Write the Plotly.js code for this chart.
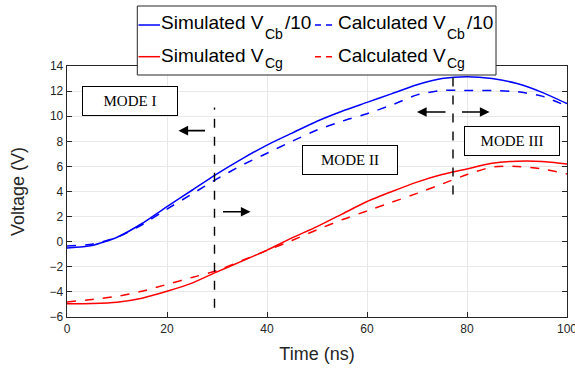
<!DOCTYPE html>
<html><head><meta charset="utf-8">
<script src="https://cdn.plot.ly/plotly-3.0.1.min.js"></script>
<style>html,body{margin:0;padding:0;background:#fff}#chart{width:575px;height:369px}</style>
</head><body><div id="chart"></div>
<script>
const time = [0,5,10,15,20,25,30,35,40,45,50,55,60,65,70,75,80,85,90,95,100];
const simVcb10 = [-0.5,-0.3,0.35,1.45,2.8,4.1,5.4,6.6,7.7,8.65,9.6,10.4,11.1,11.8,12.5,13.0,13.15,13.0,12.6,11.9,11.0];
const calcVcb10 = [-0.35,-0.2,0.35,1.35,2.6,3.8,5.0,6.1,7.05,8.0,8.9,9.6,10.2,10.9,11.7,12.05,12.05,12.05,11.95,11.6,10.8];
const simVcg = [-4.95,-4.92,-4.82,-4.5,-3.95,-3.3,-2.4,-1.55,-0.67,0.3,1.2,2.2,3.2,4.0,4.75,5.35,5.8,6.25,6.42,6.4,6.2];
const calcVcg = [-4.8,-4.6,-4.35,-3.95,-3.4,-2.85,-2.3,-1.5,-0.7,0.1,0.95,1.75,2.45,3.15,3.85,4.6,5.35,5.95,6.0,5.8,5.4];
const seriesMain = ['Simulated V','Calculated V','Simulated V','Calculated V'];
const seriesSub = ['Cb','Cb','Cg','Cg'];
const seriesSuffix = ['/10','/10','',''];
const modeBoundaries = [29.5, 77.2];
const modeLabels = ['MODE I','MODE II','MODE III'];
const xTicks = [0,20,40,60,80,100];
const yTicks = [-6,-4,-2,0,2,4,6,8,10,12,14];

const W = 575, H = 369, M = {l: 67, r: 8, t: 66, b: 52};
const PW = W - M.l - M.r, PH = H - M.t - M.b;
const px2x = px => (px - M.l) / PW;           // pixel -> paper x
const py2y = py => (H - M.b - py) / PH;       // pixel -> paper y

const colors = ['#0000ff','#0000ff','#ff0000','#ff0000'];
const dashes = ['solid','dash','solid','dash'];
const series = [simVcb10, calcVcb10, simVcg, calcVcg];
const traces = series.map((y, i) => ({x: time, y: y, type: 'scatter', mode: 'lines', showlegend: false,
  name: seriesMain[i] + seriesSub[i] + seriesSuffix[i],
  line: {color: colors[i], width: 1.5, dash: dashes[i], shape: 'spline', smoothing: 0.6}}));

const axisCommon = {showline: true, linecolor: '#262626', linewidth: 1.3, mirror: 'ticks',
  ticks: 'inside', ticklen: 5, tickcolor: '#262626', showgrid: true, gridcolor: '#e8e8e8',
  zeroline: false, ticklabeloverflow: 'allow',
  tickfont: {family: 'Liberation Sans, Arial', size: 12, color: '#262626'}};

const boxStyle = {showarrow: false, bordercolor: '#000', borderwidth: 1, bgcolor: '#fff',
  font: {family: 'Liberation Serif, Times New Roman', size: 15, color: '#000'}, width: 94, height: 28, borderpad: 0};
const arrowStyle = {showarrow: true, arrowhead: 2, arrowsize: 1.2, arrowwidth: 1.6, arrowcolor: '#000',
  axref: 'x', ayref: 'y', text: ''};

// custom legend (MATLAB style, two columns)
const legFont = {family: 'Liberation Sans, Arial', size: 19, color: '#000'};
const subFont = {family: 'Liberation Sans, Arial', size: 14, color: '#000'};
const colX = [{line: [138.5, 160], main: 160, sub: 263.5, suf: 284}, {line: [315, 332], main: 336.5, sub: 445.5, suf: 466}];
const rowY = [{line: 25, main: 22.3, sub: 33.6}, {line: 56.7, main: 55.5, sub: 63.3}];
const legendShapes = [{type: 'rect', xref: 'paper', yref: 'paper', layer: 'above',
  x0: px2x(137.3), x1: px2x(496), y0: py2y(75), y1: py2y(6),
  fillcolor: '#fff', line: {color: '#262626', width: 1}}];
const legendAnns = [];
series.forEach((s, i) => {
  const c = colX[i % 2], r = rowY[Math.floor(i / 2)];
  legendShapes.push({type: 'line', xref: 'paper', yref: 'paper', layer: 'above',
    x0: px2x(c.line[0]), x1: px2x(c.line[1]), y0: py2y(r.line), y1: py2y(r.line),
    line: {color: colors[i], width: 1.5, dash: dashes[i] === 'dash' ? '6px,5px' : 'solid'}});
  legendAnns.push({xref: 'paper', yref: 'paper', x: px2x(c.main), y: py2y(r.main), xanchor: 'left', yanchor: 'middle',
    text: seriesMain[i], showarrow: false, font: legFont, borderpad: 0});
  legendAnns.push({xref: 'paper', yref: 'paper', x: px2x(c.sub), y: py2y(r.sub), xanchor: 'left', yanchor: 'middle',
    text: seriesSub[i], showarrow: false, font: subFont, borderpad: 0});
  if (seriesSuffix[i]) legendAnns.push({xref: 'paper', yref: 'paper', x: px2x(c.suf), y: py2y(r.main), xanchor: 'left', yanchor: 'middle',
    text: seriesSuffix[i], showarrow: false, font: legFont, borderpad: 0});
});

const layout = {
  width: W, height: H, margin: M,
  paper_bgcolor: '#fff', plot_bgcolor: '#fff',
  showlegend: false,
  xaxis: Object.assign({}, axisCommon, {range: [0, 100], tickvals: xTicks,
    title: {text: 'Time (ns)', font: {family: 'Liberation Sans, Arial', size: 18, color: '#262626'}, standoff: 12}}),
  yaxis: Object.assign({}, axisCommon, {range: [-6, 14], tickvals: yTicks,
    title: {text: 'Voltage (V)', font: {family: 'Liberation Sans, Arial', size: 18, color: '#262626'}, standoff: 20}}),
  shapes: modeBoundaries.map((b, i) => ({type: 'line', xref: 'x', yref: 'y', x0: b, x1: b,
    y0: i === 0 ? -5.26 : 3.77, y1: i === 0 ? 10.69 : 14, layer: 'above',
    line: {color: '#000', width: 1.4, dash: 'dash'}})).concat(legendShapes),
  annotations: [
    Object.assign({}, boxStyle, {x: 12.5, y: 11.2, text: modeLabels[0]}),
    Object.assign({}, boxStyle, {x: 56.6, y: 6.48, text: modeLabels[1]}),
    Object.assign({}, boxStyle, {x: 89.0, y: 8.0, text: modeLabels[2]}),
    Object.assign({}, arrowStyle, {x: 22.3, y: 8.85, ax: 27.9, ay: 8.85}),
    Object.assign({}, arrowStyle, {x: 36.7, y: 2.39, ax: 30.9, ay: 2.39}),
    Object.assign({}, arrowStyle, {x: 70.0, y: 10.34, ax: 76.0, ay: 10.34}),
    Object.assign({}, arrowStyle, {x: 84.5, y: 10.34, ax: 78.7, ay: 10.34})
  ].concat(legendAnns)
};
Plotly.newPlot('chart', traces, layout, {displayModeBar: false, staticPlot: true});
</script></body></html>
